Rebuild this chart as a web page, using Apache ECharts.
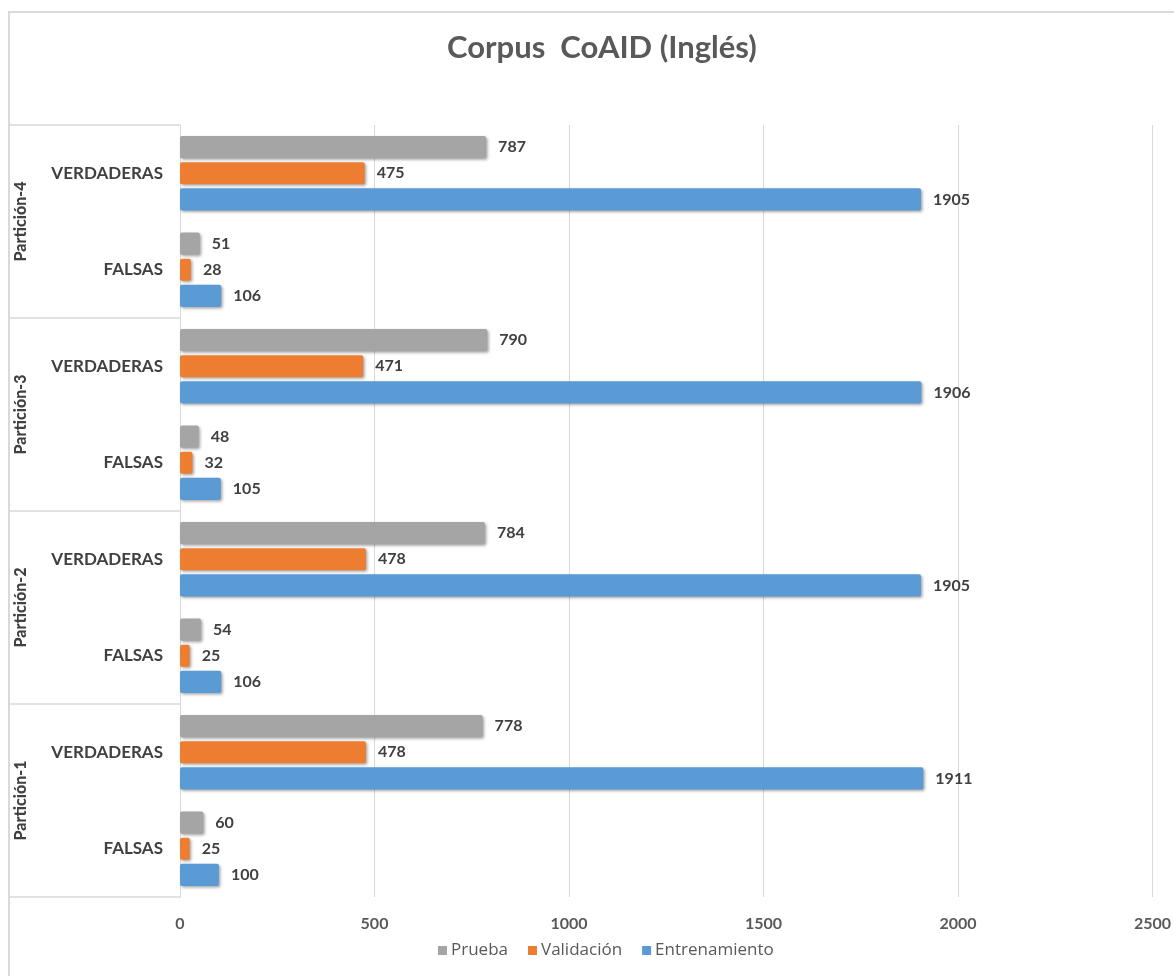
<!DOCTYPE html>
<html>
<head>
<meta charset="utf-8">
<script src="https://cdn.jsdelivr.net/npm/echarts@6/dist/echarts.min.js"></script>
<style>
  html, body { margin: 0; padding: 0; background: #ffffff; }
  #chart { width: 1174px; height: 976px; }
</style>
</head>
<body>
<div id="chart"></div>
<script>
// Category rows, bottom to top: each partition has FALSAS and VERDADERAS
const partitions = ['Partición-1', 'Partición-2', 'Partición-3', 'Partición-4'];
const classes = ['FALSAS', 'VERDADERAS'];

// Counts per row (same order as the rows above)
const prueba        = [60, 778, 54, 784, 48, 790, 51, 787];
const validacion    = [25, 478, 25, 478, 32, 471, 28, 475];
const entrenamiento = [100, 1911, 106, 1905, 105, 1906, 106, 1905];

const xTicks = { min: 0, max: 2500, interval: 500 };

const rows = [];
partitions.forEach(p => classes.forEach(c => rows.push(p + '|' + c)));

const FONT = 'Lato';
const TEXT = '#404040';
const GRID_LINE = '#d9d9d9';

function barSeries(name, values, color) {
  return {
    name: name,
    type: 'bar',
    yAxisIndex: 0,
    data: values,
    barGap: '18%',
    barCategoryGap: '23%',
    itemStyle: {
      color: color,
      borderRadius: 2,
      shadowColor: 'rgba(0,0,0,0.35)',
      shadowBlur: 3,
      shadowOffsetX: 1.5,
      shadowOffsetY: 1.5
    },
    label: {
      show: true,
      position: 'right',
      distance: 12,
      fontFamily: FONT,
      fontWeight: 'bold',
      fontSize: 16,
      color: TEXT
    }
  };
}

const chart = echarts.init(document.getElementById('chart'), null, { renderer: 'canvas' });

chart.setOption({
  animation: false,
  backgroundColor: '#ffffff',
  title: {
    text: 'Corpus  CoAID (Inglés)',
    left: 442,
    top: 27,
    textStyle: { fontFamily: FONT, fontWeight: 'bold', fontSize: 31, color: '#595959' }
  },
  legend: {
    bottom: 12,
    left: 433,
    data: ['Prueba', 'Validación', 'Entrenamiento'],
    icon: 'rect',
    itemWidth: 9,
    itemHeight: 9,
    itemGap: 20,
    textStyle: { fontFamily: 'Open Sans', fontSize: 17, color: '#595959', padding: [0, 0, 0, -1] }
  },
  grid: { left: 180, right: 19, top: 125, bottom: 79, containLabel: false },
  xAxis: {
    type: 'value',
    min: xTicks.min,
    max: xTicks.max,
    interval: xTicks.interval,
    axisLine: { show: false },
    axisTick: { show: false },
    splitLine: { show: true, lineStyle: { color: GRID_LINE, width: 1 } },
    axisLabel: {
      fontFamily: FONT, fontWeight: 'bold', fontSize: 16, color: '#595959', margin: 19,
      formatter: v => String(v)
    }
  },
  yAxis: [
    {
      type: 'category',
      data: rows,
      axisLine: { show: true, lineStyle: { color: GRID_LINE, width: 1 } },
      axisTick: { show: false },
      axisLabel: {
        margin: 17,
        fontFamily: FONT,
        fontWeight: 'bold',
        fontSize: 17,
        color: TEXT,
        formatter: v => v.split('|')[1]
      }
    },
    {
      type: 'category',
      data: partitions,
      position: 'left',
      axisLine: { show: false },
      axisTick: { show: true, length: 172, lineStyle: { color: GRID_LINE, width: 1.5 } },
      axisLabel: {
        rotate: 90,
        margin: 151,
        fontFamily: FONT,
        fontWeight: 900,
        fontSize: 16,
        color: TEXT
      }
    }
  ],
  graphic: [
    {
      type: 'polyline',
      silent: true,
      shape: { points: [[9, 976], [9, 12], [1174, 12]] },
      style: { stroke: GRID_LINE, lineWidth: 2, fill: null }
    }
  ],
  series: [
    barSeries('Prueba', prueba, '#a5a5a5'),
    barSeries('Validación', validacion, '#ed7d31'),
    barSeries('Entrenamiento', entrenamiento, '#5b9bd5')
  ]
});
</script>
</body>
</html>
